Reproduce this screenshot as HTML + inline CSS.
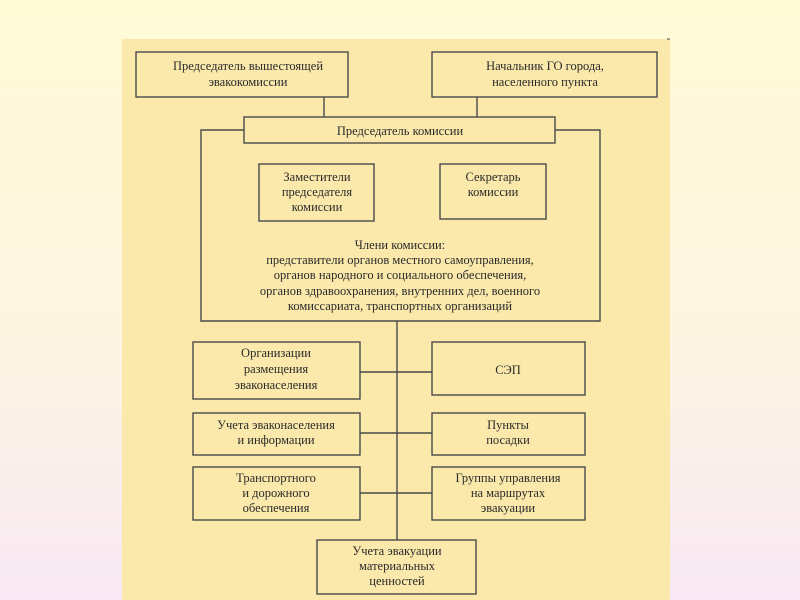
<!DOCTYPE html>
<html><head><meta charset="utf-8"><style>
html,body{margin:0;padding:0}
body{width:800px;height:600px;background:linear-gradient(#fffbd6,#fdf5e2 55%,#f8e8f4);overflow:hidden}
svg{display:block}
svg text{font-family:"Liberation Serif",serif;font-size:12.5px;fill:#2a2a2a;text-anchor:middle}
</style></head><body>
<svg width="800" height="600" xmlns="http://www.w3.org/2000/svg">
<rect x="122" y="39" width="548" height="561" fill="#fbe9ac"/>
<line x1="667" y1="39" x2="670" y2="39" stroke="#444"/>
<g fill="none" stroke="#4a4a4a" stroke-width="1.4">
<rect x="136" y="52" width="212" height="45"/>
<rect x="432" y="52" width="225" height="45"/>
<line x1="324" y1="97" x2="324" y2="117"/>
<line x1="477" y1="97" x2="477" y2="117"/>
<rect x="244" y="117" width="311" height="26"/>
<polyline points="244,130 201,130 201,321 600,321 600,130 555,130"/>
<rect x="259" y="164" width="115" height="57"/>
<rect x="440" y="164" width="106" height="55"/>
<line x1="397" y1="321" x2="397" y2="540"/>
<rect x="193" y="342" width="167" height="57"/>
<rect x="432" y="342" width="153" height="53"/>
<rect x="193" y="413" width="167" height="42"/>
<rect x="432" y="413" width="153" height="42"/>
<rect x="193" y="467" width="167" height="53"/>
<rect x="432" y="467" width="153" height="53"/>
<rect x="317" y="540" width="159" height="54"/>
<line x1="360" y1="372" x2="432" y2="372"/>
<line x1="360" y1="433" x2="432" y2="433"/>
<line x1="360" y1="493" x2="432" y2="493"/>
</g>
<text x="248" y="70">Председатель вышестоящей</text>
<text x="248" y="86">эвакокомиссии</text>
<text x="545" y="70">Начальник ГО города,</text>
<text x="545" y="86">населенного пункта</text>
<text x="400" y="135">Председатель комиссии</text>
<text x="317" y="181">Заместители</text>
<text x="317" y="196">председателя</text>
<text x="317" y="211">комиссии</text>
<text x="493" y="181">Секретарь</text>
<text x="493" y="196">комиссии</text>
<text x="400" y="249">Члени комиссии:</text>
<text x="400" y="264">представители органов местного самоуправления,</text>
<text x="400" y="279">органов народного и социального обеспечения,</text>
<text x="400" y="295">органов здравоохранения, внутренних дел, военного</text>
<text x="400" y="310">комиссариата, транспортных организаций</text>
<text x="276" y="357">Организации</text>
<text x="276" y="373">размещения</text>
<text x="276" y="389">эваконаселения</text>
<text x="508" y="374">СЭП</text>
<text x="276" y="429">Учета эваконаселения</text>
<text x="276" y="444">и информации</text>
<text x="508" y="429">Пункты</text>
<text x="508" y="444">посадки</text>
<text x="276" y="482">Транспортного</text>
<text x="276" y="497">и дорожного</text>
<text x="276" y="512">обеспечения</text>
<text x="508" y="482">Группы управления</text>
<text x="508" y="497">на маршрутах</text>
<text x="508" y="512">эвакуации</text>
<text x="397" y="555">Учета эвакуации</text>
<text x="397" y="570">материальных</text>
<text x="397" y="585">ценностей</text>
</svg>
</body></html>
